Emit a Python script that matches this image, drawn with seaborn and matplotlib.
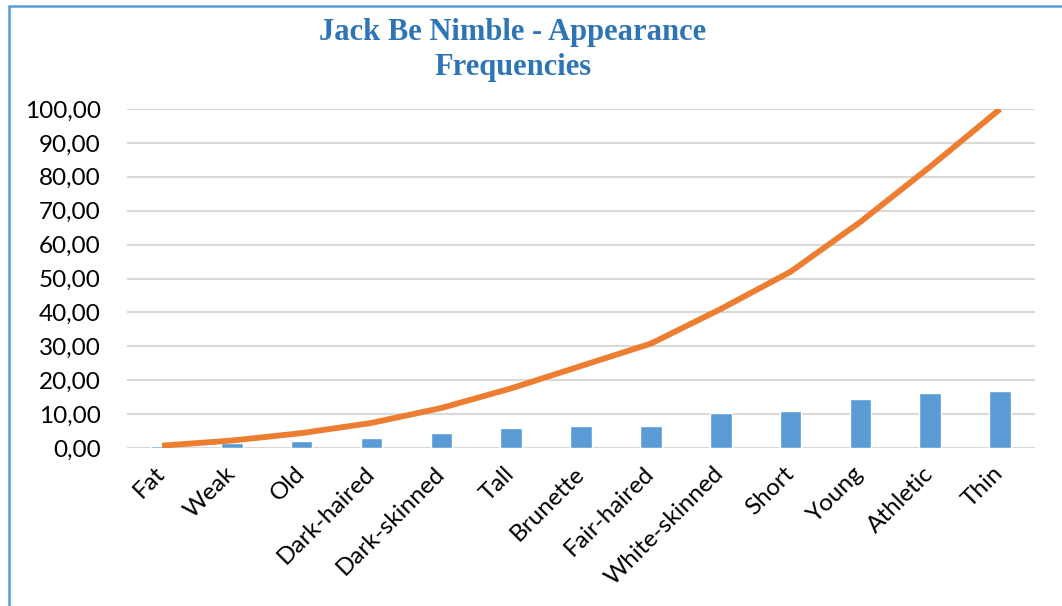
import numpy as np
import pandas as pd
import seaborn as sns
import matplotlib.pyplot as plt
from matplotlib.ticker import FuncFormatter
from matplotlib.patches import Rectangle

# ---- data ----
traits = ['Fat', 'Weak', 'Old', 'Dark-haired', 'Dark-skinned', 'Tall', 'Brunette',
          'Fair-haired', 'White-skinned', 'Short', 'Young', 'Athletic', 'Thin']
frequency = [0.7, 1.5, 2.1, 2.95, 4.4, 5.8, 6.6, 6.6, 10.2, 11.0, 14.6, 16.1, 16.9]
cumulative = [0.7, 2.2, 4.4, 7.4, 11.8, 17.6, 24.2, 30.8, 41.0, 52.0, 66.7, 83.0, 100.0]
y_ticks = [0, 10, 20, 30, 40, 50, 60, 70, 80, 90, 100]

df = pd.DataFrame({'Trait': traits, 'Frequency': frequency,
                   'Cumulative': cumulative, 'pos': np.arange(len(traits))})

sns.set_theme(style='white')
plt.rcParams['font.family'] = ['Lato', 'DejaVu Sans']

fig = plt.figure(figsize=(10.62, 6.06), dpi=100)
ax = fig.add_axes([0.1196, 0.2607, 0.855, 0.5594])

sns.barplot(data=df, x='Trait', y='Frequency', color='#5B9BD5', width=0.31,
            saturation=1, ax=ax, zorder=2)
sns.lineplot(data=df, x='pos', y='Cumulative', color='#ED7D31', linewidth=4.2,
             ax=ax, zorder=3, solid_capstyle='butt')

ax.set_xlim(-0.5, len(traits) - 0.5)
ax.set_ylim(0, 100)
ax.set_yticks(y_ticks)
ax.yaxis.set_major_formatter(FuncFormatter(lambda v, p: f'{v:.2f}'.replace('.', ',')))
ax.grid(axis='y', color='#D9D9D9', linewidth=1.5, zorder=0)
ax.set_axisbelow(True)
for s in ax.spines.values():
    s.set_visible(False)
ax.set_xlabel('')
ax.set_ylabel('')
ax.tick_params(axis='y', length=0, pad=19, labelsize=17.5, labelcolor='#000000')
ax.tick_params(axis='x', length=0, pad=16, labelsize=17.5, labelcolor='#000000')
ax.set_xticks(range(len(traits)))
ax.set_xticklabels(traits, rotation=45, ha='right', va='center', rotation_mode='anchor')

fig.text(0.483, 0.947, 'Jack Be Nimble - Appearance', ha='center', va='center',
         fontsize=22, fontweight='bold', color='#2E75B6', family=['Liberation Serif'])
fig.text(0.483, 0.889, 'Frequencies', ha='center', va='center',
         fontsize=22, fontweight='bold', color='#2E75B6', family=['Liberation Serif'])

# chart frame (only top and left edge visible in the reference)
fig.patches.append(Rectangle((9 / 1062, -0.1), 1.2, 1.1 - 5.5 / 606, transform=fig.transFigure,
                             fill=False, edgecolor='#5B9BD5', linewidth=1.8))

plt.savefig('out.png', dpi=100)
